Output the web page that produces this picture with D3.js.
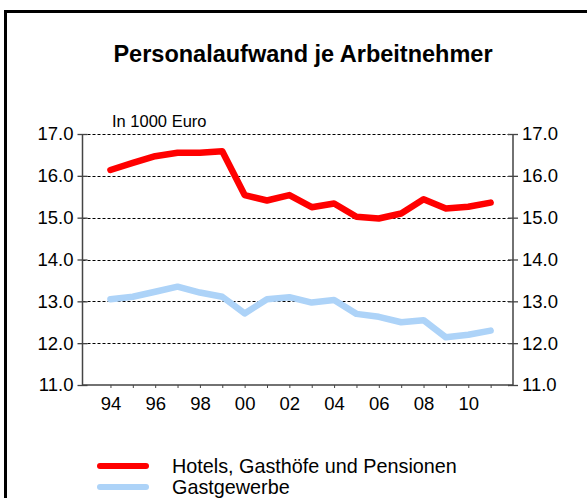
<!DOCTYPE html>
<html>
<head>
<meta charset="utf-8">
<script src="https://cdn.jsdelivr.net/npm/d3@7"></script>
<style>
  html, body { margin: 0; padding: 0; background: #fff; overflow: hidden; }
  svg { display: block; font-family: 'Liberation Sans', Arial, sans-serif; }
</style>
</head>
<body>
<script>
'use strict';

const years = [1994, 1995, 1996, 1997, 1998, 1999, 2000, 2001, 2002, 2003,
               2004, 2005, 2006, 2007, 2008, 2009, 2010, 2011];
const hotels = [16.14, 16.31, 16.47, 16.55, 16.55, 16.59, 15.54, 15.41, 15.54, 15.25,
                15.34, 15.02, 14.98, 15.10, 15.44, 15.22, 15.26, 15.36];
const gast = [13.05, 13.11, 13.23, 13.35, 13.21, 13.11, 12.71, 13.05, 13.10, 12.97,
              13.03, 12.70, 12.63, 12.50, 12.55, 12.14, 12.20, 12.30];
const yTicks = [11, 12, 13, 14, 15, 16, 17];
const xLabelYears = [1994, 1996, 1998, 2000, 2002, 2004, 2006, 2008, 2010];
const seriesNames = ['Hotels, Gasthöfe und Pensionen', 'Gastgewerbe'];
const seriesColors = ['#ff0000', '#add3f8'];

const W = 587, H = 498;
const svg = d3.select('body').append('svg').attr('width', W).attr('height', H);

// frame runs off the right and bottom edge
svg.append('rect')
    .attr('x', 5.5).attr('y', 11.5)
    .attr('width', 600).attr('height', 520)
    .attr('fill', 'none').attr('stroke', '#000').attr('stroke-width', 3);

svg.append('text')
    .attr('x', 303).attr('y', 62)
    .attr('text-anchor', 'middle')
    .attr('font-weight', 'bold')
    .attr('font-size', 23.5)
    .text('Personalaufwand je Arbeitnehmer');

const pl = 82.5, pr = 513, pt = 134, pb = 385;

const x = d3.scaleLinear().domain([1992.75, 2012]).range([pl, pr]);
const y = d3.scaleLinear().domain([11, 17]).range([pb, pt]);

// dashed grid
svg.append('g').selectAll('line').data(yTicks.filter(v => v > 11)).enter().append('line')
    .attr('x1', pl).attr('x2', pr)
    .attr('y1', d => Math.round(y(d)) + 0.5).attr('y2', d => Math.round(y(d)) + 0.5)
    .attr('stroke', '#000').attr('stroke-width', 1)
    .attr('stroke-dasharray', '3,2');

const fmt = d3.format('.1f');
const axisCol = '#444';
const tickFont = 18.5;

function styleAxis(g, side) {
  g.select('.domain').remove();
  g.selectAll('.tick line')
      .attr('stroke', axisCol).attr('stroke-width', 1.3)
      .attr('x1', side * 5);
  g.selectAll('.tick text')
      .attr('font-size', tickFont).attr('fill', '#000')
      .attr('font-family', "'Liberation Sans', Arial, sans-serif");
}

svg.append('g')
    .attr('transform', `translate(${pl},0)`)
    .call(d3.axisLeft(y).tickValues(yTicks).tickFormat(fmt).tickSize(5).tickPadding(4))
    .call(g => styleAxis(g, 1));

svg.append('g')
    .attr('transform', `translate(${pr},0)`)
    .call(d3.axisRight(y).tickValues(yTicks).tickFormat(fmt).tickSize(5).tickPadding(4))
    .call(g => styleAxis(g, -1));

// axis lines
svg.append('path')
    .attr('d', `M${pl},${pt} V${pb} H${pr} V${pt}`)
    .attr('fill', 'none').attr('stroke', axisCol).attr('stroke-width', 1.5);

const xa = svg.append('g')
    .attr('transform', `translate(0,${pb})`)
    .call(d3.axisBottom(x).tickValues(years).tickSize(3).tickPadding(9)
        .tickFormat(d => xLabelYears.includes(d) ? String(d).slice(2) : ''));
xa.select('.domain').remove();
xa.selectAll('.tick line').attr('stroke', axisCol).attr('stroke-width', 1);
xa.selectAll('.tick text').attr('font-size', tickFont).attr('fill', '#000')
    .attr('font-family', "'Liberation Sans', Arial, sans-serif");

svg.append('text')
    .attr('x', 112).attr('y', 127)
    .attr('font-size', 16.5)
    .text('In 1000 Euro');

const line = d3.line().x((d, i) => x(years[i])).y(d => y(d));

[hotels, gast].forEach((vals, k) => {
  svg.append('path')
      .datum(vals)
      .attr('d', line)
      .attr('fill', 'none')
      .attr('stroke', seriesColors[k])
      .attr('stroke-width', 6.5)
      .attr('stroke-linejoin', 'round')
      .attr('stroke-linecap', 'round');
});

// legend
const lg = svg.append('g').selectAll('g').data(seriesNames).enter().append('g')
    .attr('transform', (d, i) => `translate(0,${466 + i * 21})`);
lg.append('line')
    .attr('x1', 100).attr('x2', 146)
    .attr('stroke', (d, i) => seriesColors[i])
    .attr('stroke-width', 6).attr('stroke-linecap', 'round');
lg.append('text')
    .attr('x', 172).attr('y', 0).attr('dy', '0.35em')
    .attr('font-size', 19.8)
    .text(d => d);
</script>
</body>
</html>
